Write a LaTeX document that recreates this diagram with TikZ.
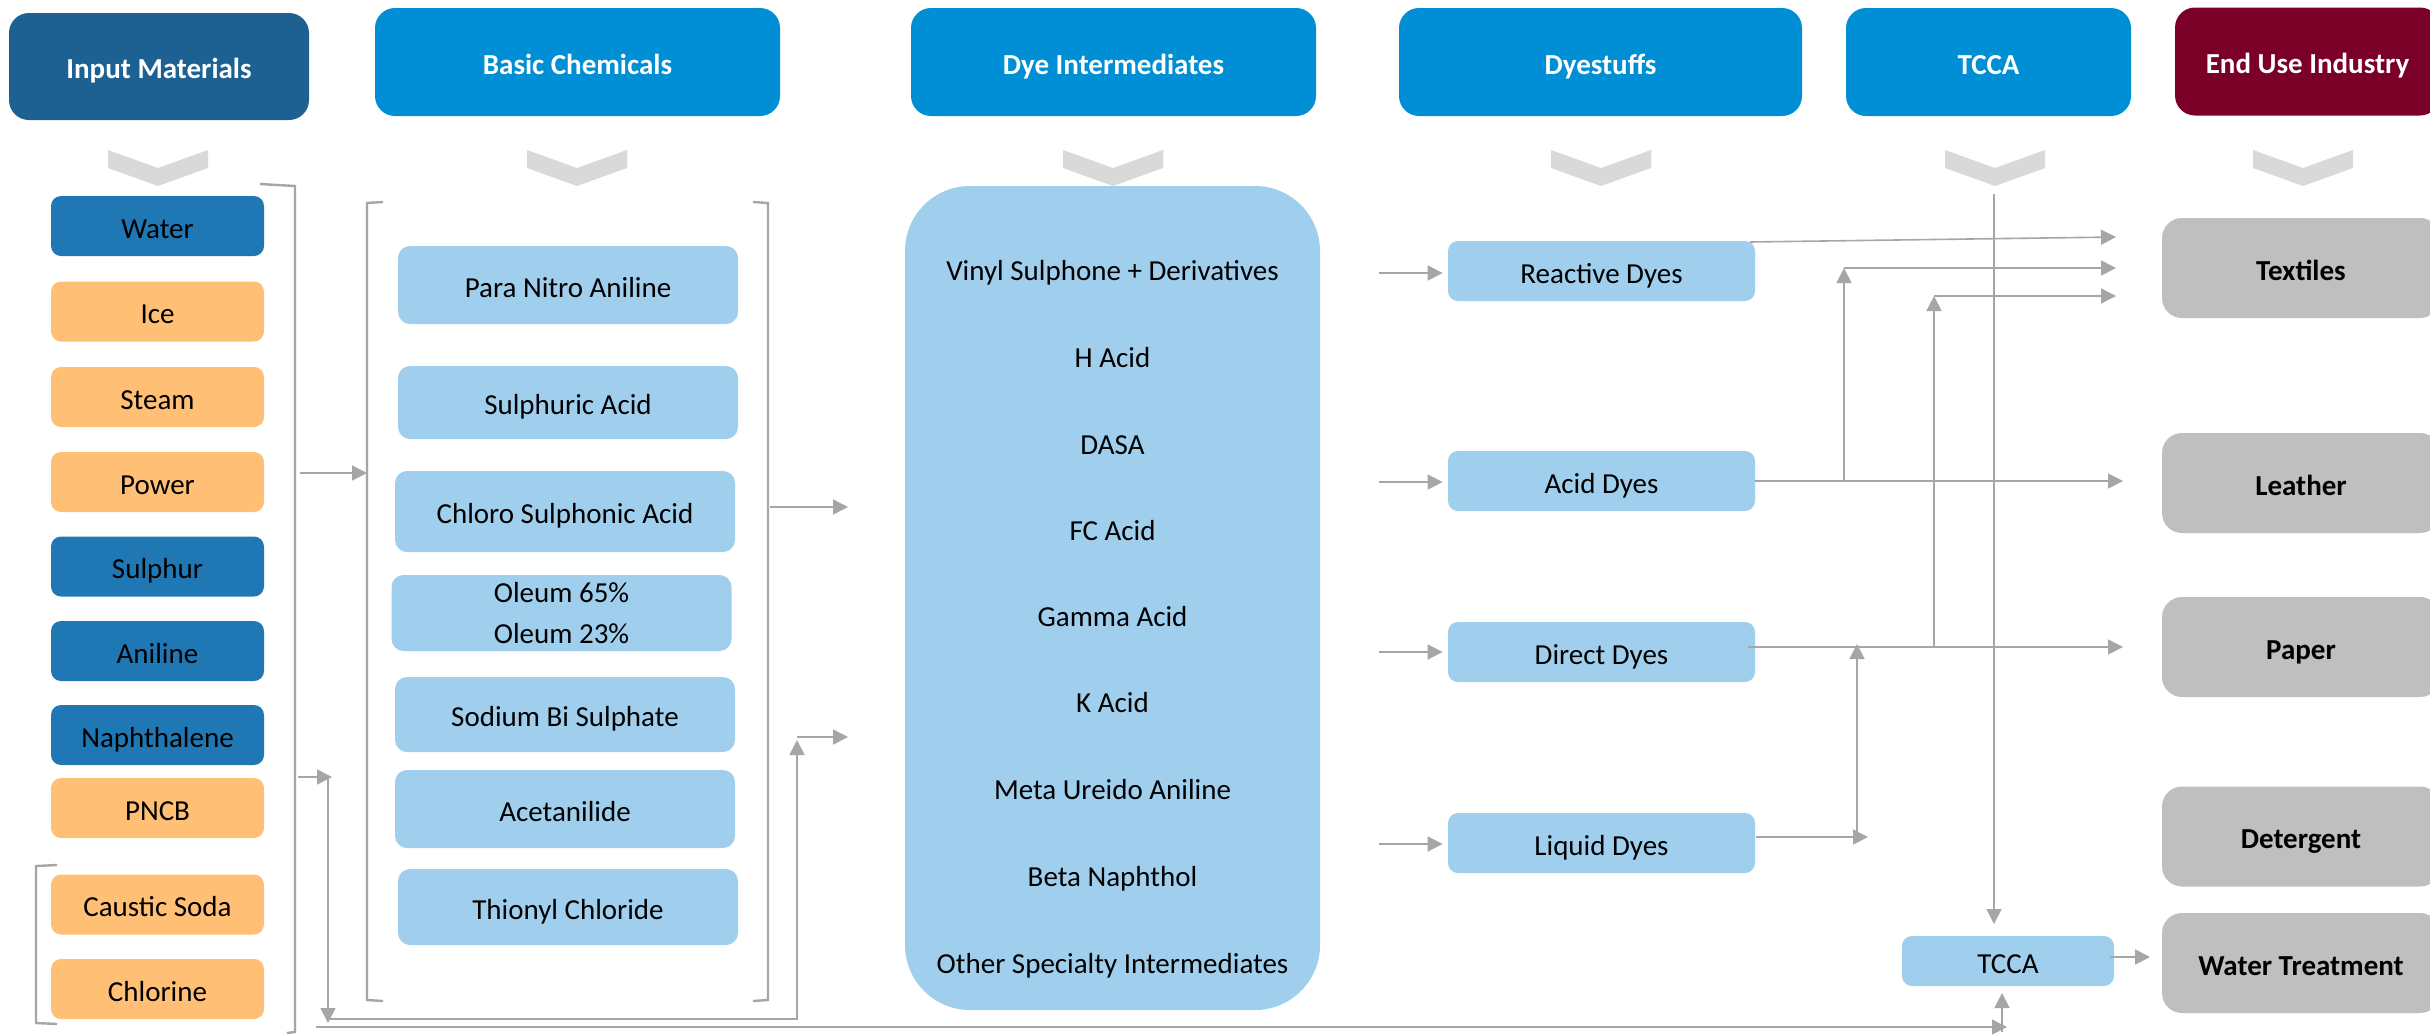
\documentclass[tikz,border=0pt]{standalone}
\usepackage{fontspec}
\setmainfont{Carlito}
\usetikzlibrary{arrows.meta}
\definecolor{hdark}{RGB}{28,97,146}
\definecolor{hblue}{RGB}{0,143,213}
\definecolor{hred}{RGB}{122,0,40}
\definecolor{dblue}{RGB}{31,119,180}
\definecolor{orng}{RGB}{255,192,118}
\definecolor{lblue}{RGB}{160,207,238}
\definecolor{gbox}{RGB}{191,191,191}
\definecolor{chev}{RGB}{217,217,217}
\definecolor{lgray}{RGB}{166,166,166}
\begin{document}
\begin{tikzpicture}[x=0.5pt,y=-0.5pt,
  tx/.style={text height=12.3pt, text depth=0pt},
  hdr/.style={tx, rounded corners=10pt, text=white, inner sep=0pt,
    font=\fontsize{14.5}{17.5}\selectfont\bfseries, minimum height=54pt},
  inbox/.style={tx, rounded corners=5pt, inner sep=0pt, minimum width=106.5pt,
    minimum height=30pt, font=\fontsize{14.5}{17.5}\selectfont},
  bcbox/.style={tx, fill=lblue, rounded corners=6pt, inner sep=0pt, minimum width=170pt,
    font=\fontsize{14.5}{17.5}\selectfont, align=center},
  dtext/.style={tx, inner sep=0pt, font=\fontsize{14.5}{17.5}\selectfont},
  dybox/.style={tx, fill=lblue, rounded corners=5pt, inner sep=0pt, minimum width=153.5pt,
    minimum height=30pt, font=\fontsize{14.5}{17.5}\selectfont},
  endbox/.style={tx, fill=gbox, rounded corners=10pt, inner sep=0pt, minimum width=139pt,
    minimum height=50pt, font=\fontsize{14.5}{17.5}\selectfont\bfseries},
  brk/.style={draw=lgray, line width=1.2pt},
  arr/.style={draw=lgray, line width=0.8pt, -{Triangle[length=7.5pt,width=7.5pt]}},
  ln/.style={draw=lgray, line width=0.8pt}
]
\clip (0,0) rectangle (2430,1034);
\fill[white] (0,0) rectangle (2430,1034);

% headers
\node[hdr, fill=hdark, minimum width=150pt, minimum height=53.5pt] (hIn) at (159,66.5) {Input Materials};
\node[hdr, fill=hblue, minimum width=202.5pt] (hBasic) at (577.5,62) {Basic Chemicals};
\node[hdr, fill=hblue, minimum width=202.5pt] (hDye) at (1113.5,62) {Dye Intermediates};
\node[hdr, fill=hblue, minimum width=201.5pt] (hDyes) at (1600.5,62) {Dyestuffs};
\node[hdr, fill=hblue, minimum width=142.5pt] (hTcca) at (1988.5,62) {TCCA};
\node[hdr, fill=hred, minimum width=132.5pt] (hEnd) at (2307.5,61.5) {End Use Industry};

% chevrons
\foreach \c in {158,577,1113,1601,1995,2303}{
  \fill[chev] (\c-50,150) -- (\c,168) -- (\c+50,150) -- (\c+50,168) -- (\c,186) -- (\c-50,168) -- cycle;
}

% input materials
\node[inbox, fill=dblue] (water) at (157.5,226) {Water};
\node[inbox, fill=orng] (ice) at (157.5,311.5) {Ice};
\node[inbox, fill=orng] (steam) at (157.5,397) {Steam};
\node[inbox, fill=orng] (power) at (157.5,482) {Power};
\node[inbox, fill=dblue] (sulphur) at (157.5,566.5) {Sulphur};
\node[inbox, fill=dblue] (aniline) at (157.5,651) {Aniline};
\node[inbox, fill=dblue] (naph) at (157.5,735) {Naphthalene};
\node[inbox, fill=orng] (pncb) at (157.5,808) {PNCB};
\node[inbox, fill=orng] (caustic) at (157.5,904.5) {Caustic Soda};
\node[inbox, fill=orng] (chlorine) at (157.5,989) {Chlorine};

% basic chemicals
\node[bcbox, minimum height=39pt] (pna) at (568,285) {Para Nitro Aniline};
\node[bcbox, minimum height=36.5pt] (sulph) at (568,402.5) {Sulphuric Acid};
\node[bcbox, minimum height=40.5pt] (chloro) at (565,511.5) {Chloro Sulphonic Acid};
\node[bcbox, minimum height=38pt, text height={}, text depth={},
  font=\fontsize{14.5}{20.5}\selectfont] (oleum) at (561.5,613) {Oleum 65\%\\Oleum 23\%};
\node[bcbox, minimum height=37.5pt] (sodium) at (565,714.5) {Sodium Bi Sulphate};
\node[bcbox, minimum height=39pt] (acet) at (565,809) {Acetanilide};
\node[bcbox, minimum height=38pt] (thionyl) at (568,907) {Thionyl Chloride};

% brackets
\draw[brk] (260,184) -- (295,186) -- (295,1032) -- (287,1033);
\draw[brk] (383,202) -- (367,203) -- (367,1000) -- (383,1001);
\draw[brk] (753,202) -- (768,203) -- (768,1000) -- (753,1001);
\draw[brk] (57,865) -- (36,866) -- (36,1023) -- (57,1024);

% dye intermediates
\node[fill=lblue, rounded corners=32.5pt, minimum width=207.5pt, minimum height=412pt, inner sep=0pt] (dint) at (1112.5,598) {};
\node[dtext] (d1) at (1112.5,268) {Vinyl Sulphone + Derivatives};
\node[dtext] (d2) at (1112.5,355) {H Acid};
\node[dtext] (d3) at (1112.5,442) {DASA};
\node[dtext] (d4) at (1112.5,528) {FC Acid};
\node[dtext] (d5) at (1112.5,614) {Gamma Acid};
\node[dtext] (d6) at (1112.5,700) {K Acid};
\node[dtext] (d7) at (1112.5,787) {Meta Ureido Aniline};
\node[dtext] (d8) at (1112.5,874) {Beta Naphthol};
\node[dtext] (d9) at (1112.5,961) {Other Specialty Intermediates};

% dyestuffs
\node[dybox] (react) at (1601.5,271) {Reactive Dyes};
\node[dybox] (acid) at (1601.5,481) {Acid Dyes};
\node[dybox] (direct) at (1601.5,652) {Direct Dyes};
\node[dybox] (liquid) at (1601.5,843) {Liquid Dyes};

% TCCA
\node[tx, fill=lblue, rounded corners=5pt, inner sep=0pt, minimum width=106pt, minimum height=25pt,
  font=\fontsize{14.5}{17.5}\selectfont] (tcca) at (2008,961) {TCCA};

% end use
\node[endbox] (textiles) at (2301,268) {Textiles};
\node[endbox] (leather) at (2301,483) {Leather};
\node[endbox] (paper) at (2301,647) {Paper};
\node[endbox] (deterg) at (2301,836.5) {Detergent};
\node[endbox] (wt) at (2301,963) {Water Treatment};

% connectors: input -> basic -> dye intermediates
\coordinate (inR) at (300,473); \coordinate (bcL) at (367,473);
\draw[arr] (inR) -- (bcL);
\coordinate (bcR) at (770,507); \coordinate (diA) at (848,507);
\draw[arr] (bcR) -- (diA);
\coordinate (lp0) at (298,777); \coordinate (lp1) at (332,777);
\draw[arr] (lp0) -- (lp1);
\coordinate (lp2) at (328,777); \coordinate (lp3) at (328,1023);
\draw[arr] (lp2) -- (lp3);
\coordinate (lp5) at (328,1019); \coordinate (lp4) at (797,740);
\draw[arr] (lp5) -| (lp4);
\coordinate (lp6) at (797,737); \coordinate (diB) at (848,737);
\draw[arr] (lp6) -- (diB);

% bottom line to TCCA
\coordinate (bt0) at (316,1027); \coordinate (bt1) at (2007,1027);
\draw[arr] (bt0) -- (bt1);
\coordinate (bt2) at (2002,1032); \coordinate (bt3) at (2002,993);
\draw[arr] (bt2) -- (bt3);

% TCCA header line
\coordinate (tc0) at (1994,194); \coordinate (tc1) at (1994,924);
\draw[arr] (tc0) -- (tc1);
\coordinate (tc2) at (2110,957); \coordinate (tc3) at (2150,957);
\draw[arr] (tc2) -- (tc3);

% dye intermediates -> dyestuffs
\coordinate (dr) at (1379,273); \coordinate (da) at (1379,482);
\coordinate (dd) at (1379,652); \coordinate (dl) at (1379,844);
\draw[arr, shorten >=2.5pt] (dr) -- (dr -| react.west);
\draw[arr, shorten >=2.5pt] (da) -- (da -| acid.west);
\draw[arr, shorten >=2.5pt] (dd) -- (dd -| direct.west);
\draw[arr, shorten >=2.5pt] (dl) -- (dl -| liquid.west);

% dyestuffs -> end use
\coordinate (rs) at (1750,242); \coordinate (rt) at (2116,237);
\draw[arr] (rs) -- (rt);
\coordinate (as) at (1755,481); \coordinate (at2) at (2123,481);
\draw[arr] (as) -- (at2);
\coordinate (ab0) at (1844,481); \coordinate (ab1) at (1844,268);
\draw[arr] (ab0) -- (ab1);
\coordinate (ab2) at (1844,268); \coordinate (ab3) at (2116,268);
\draw[arr] (ab2) -- (ab3);
\coordinate (ds) at (1748,647); \coordinate (dt) at (2123,647);
\draw[arr] (ds) -- (dt);
\coordinate (db0) at (1934,647); \coordinate (db1) at (1934,296);
\draw[arr] (db0) -- (db1);
\coordinate (db2) at (1934,296); \coordinate (db3) at (2116,296);
\draw[arr] (db2) -- (db3);
\coordinate (ls) at (1756,837); \coordinate (lt) at (1868,837);
\draw[arr] (ls) -- (lt);
\coordinate (lb0) at (1857,837); \coordinate (lb1) at (1857,644);
\draw[arr] (lb0) -- (lb1);
\end{tikzpicture}
\end{document}
